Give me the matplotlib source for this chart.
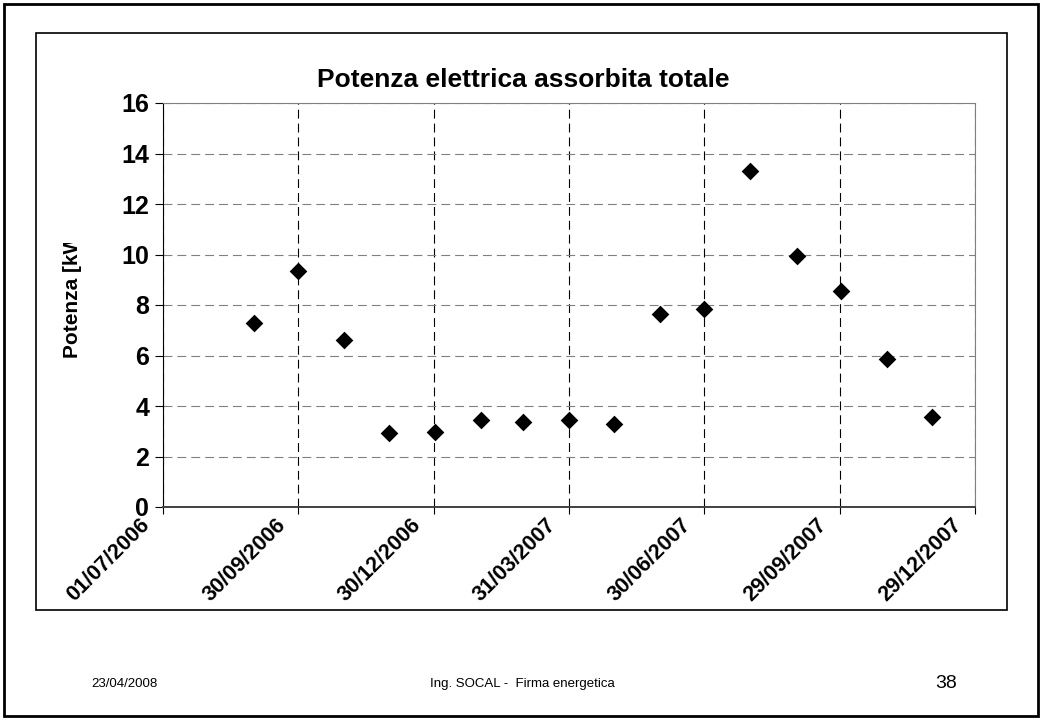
import datetime as dt
import matplotlib
matplotlib.use('Agg')
import matplotlib.pyplot as plt
import matplotlib.dates as mdates
from matplotlib.patches import Rectangle
from matplotlib.transforms import Bbox, ScaledTranslation

# Dati
date_rilievo = ['31/08/2006', '30/09/2006', '31/10/2006', '30/11/2006', '31/12/2006',
                '31/01/2007', '28/02/2007', '31/03/2007', '30/04/2007', '31/05/2007',
                '30/06/2007', '31/07/2007', '31/08/2007', '30/09/2007', '31/10/2007',
                '30/11/2007']
potenza = [7.27, 9.36, 6.61, 2.93, 2.98, 3.45, 3.37, 3.46, 3.30, 7.64,
           7.85, 13.31, 9.93, 8.57, 5.85, 3.58]
tick_date = ['01/07/2006', '30/09/2006', '30/12/2006', '31/03/2007',
             '30/06/2007', '29/09/2007', '29/12/2007']
y_ticks = [0, 2, 4, 6, 8, 10, 12, 14, 16]

plt.rcParams['font.family'] = ['Liberation Sans', 'DejaVu Sans']

x = [dt.datetime.strptime(d, '%d/%m/%Y') for d in date_rilievo]
xt = [dt.datetime.strptime(d, '%d/%m/%Y') for d in tick_date]

W, H = 1042, 720
fig = plt.figure(figsize=(W / 100, H / 100), dpi=100)

# cornice della slide e riquadro del grafico
fig.patches.append(Rectangle((4 / W, 4 / H), 1034 / W, 712 / H, transform=fig.transFigure,
                             fill=False, edgecolor='black', linewidth=2))
fig.patches.append(Rectangle((36 / W, 1 - 610 / H), 971 / W, 577 / H, transform=fig.transFigure,
                             fill=False, edgecolor='black', linewidth=1.2))

ax = fig.add_axes([163 / W, 1 - 507 / H, 812 / W, 404 / H])
ax.scatter(x, potenza, marker='D', s=9 ** 2, color='black', zorder=3, linewidths=0)

ax.set_xlim(xt[0], xt[-1])
ax.set_ylim(0, 16)
ax.set_yticks(y_ticks)
ax.set_xticks(xt)
ax.xaxis.set_major_formatter(mdates.DateFormatter('%d/%m/%Y'))

ax.xaxis.grid(True, color='black', linestyle=(0, (8, 4.5)), linewidth=0.8)
ax.yaxis.grid(True, color='#808080', linestyle=(0, (8, 4.5)), linewidth=0.8)
ax.set_axisbelow(True)

ax.spines['left'].set_color('black')
ax.spines['bottom'].set_color('#404040')
ax.spines['bottom'].set_linewidth(1.4)
ax.spines['top'].set_color('#808080')
ax.spines['right'].set_color('#808080')

ax.tick_params(axis='y', direction='out', length=6, width=0.8, pad=4, labelsize=18)
ax.tick_params(axis='x', direction='out', length=5, width=0.8, pad=6, labelsize=15.5)
for lab in ax.get_yticklabels():
    lab.set_fontweight('bold')
shift = ScaledTranslation(-16 / 100, 0, fig.dpi_scale_trans)
for lab in ax.get_xticklabels():
    lab.set_fontweight('bold')
    lab.set_rotation(45)
    lab.set_ha('right')
    lab.set_va('center')
    lab.set_rotation_mode('anchor')
    lab.set_transform(lab.get_transform() + shift)

fig.text(523 / W, 1 - 80 / H, 'Potenza elettrica assorbita totale', ha='center', va='center',
         fontsize=19, fontweight='bold')

# etichetta asse y, tagliata in alto come nell'originale
yl = fig.text(73 / W, 1 - 358 / H, 'Potenza [kW]', rotation=90, ha='center', va='bottom',
              fontsize=15, fontweight='bold')
yl.set_clip_box(Bbox([[0, 0], [W, H - 243]]))
yl.set_clip_on(True)

# piè di pagina
fig.text(124 / W, 1 - 684 / H, '23/04/2008', ha='center', va='center', fontsize=9.5)
fig.text(522 / W, 1 - 684 / H, 'Ing. SOCAL -  Firma energetica', ha='center', va='center', fontsize=9.5)
fig.text(946 / W, 1 - 684 / H, '38', ha='center', va='center', fontsize=14)

fig.savefig('out.png', dpi=100)
